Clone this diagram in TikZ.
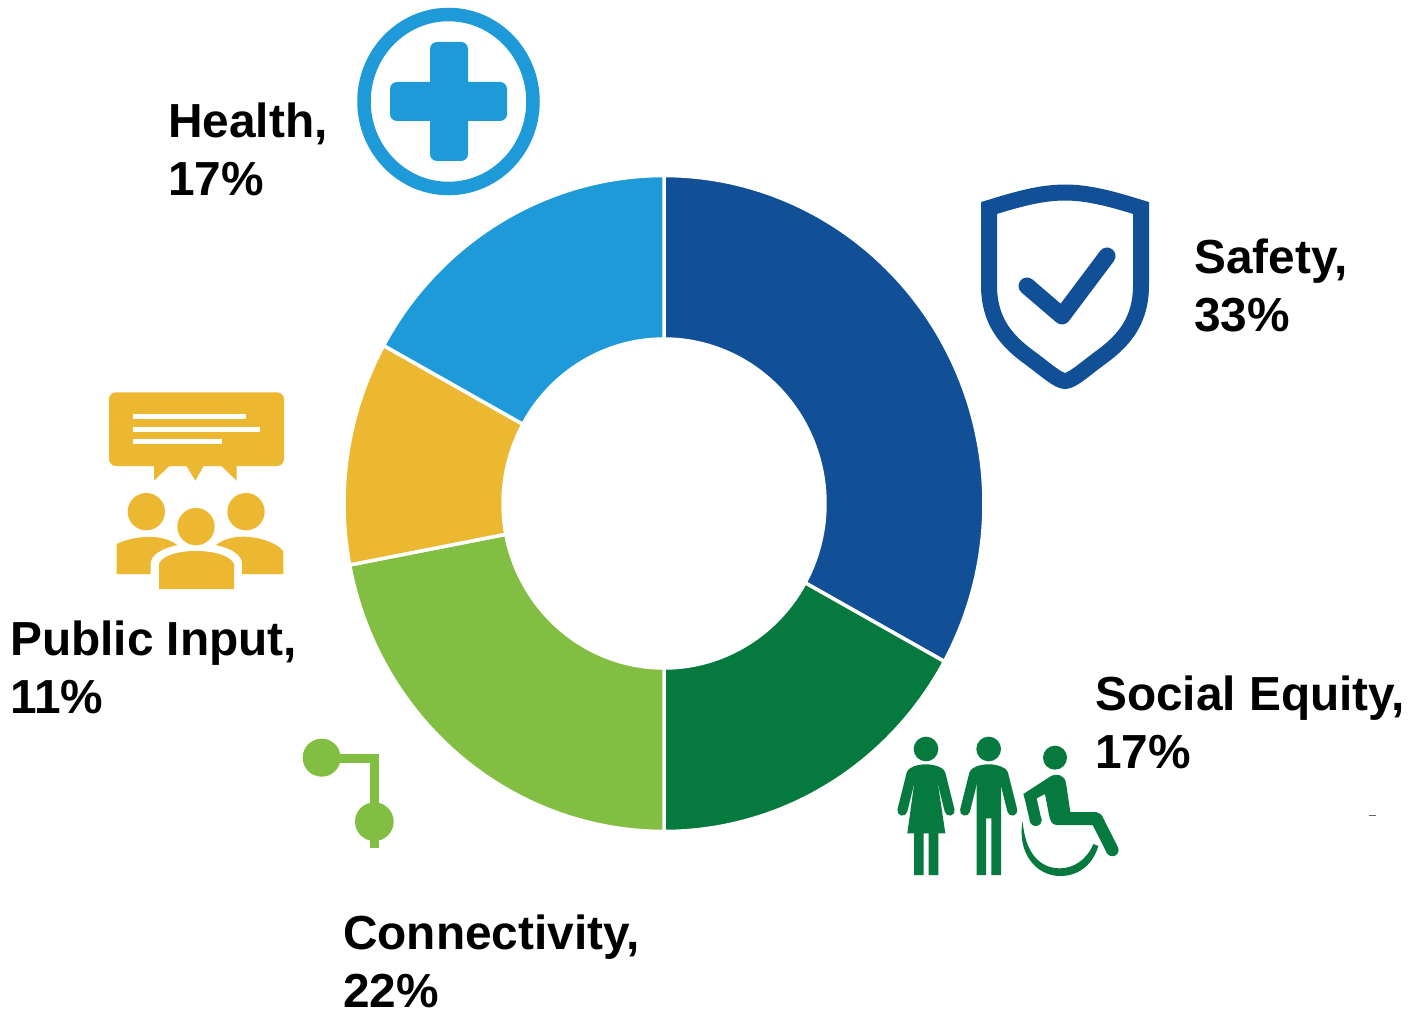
\documentclass[tikz,border=0pt]{standalone}
\usepackage{fontspec}
\setmainfont{Liberation Sans}
\definecolor{cSafety}{HTML}{114F97}
\definecolor{cEquity}{HTML}{067A3E}
\definecolor{cConn}{HTML}{82BE42}
\definecolor{cInput}{HTML}{ECB731}
\definecolor{cHealth}{HTML}{1E9AD8}
\newcommand{\slicefill}[3]{%
  \fill[#1,draw=white,line width=3.5pt,line join=miter]
    plot[domain=#2:#3,samples=90] ({664+320*sin(\x)},{503.5-328*cos(\x)})
    -- plot[domain=#3:#2,samples=90] ({664+161*sin(\x)},{503.5-164.5*cos(\x)}) -- cycle;}
\tikzset{
  lab/.style={font=\fontsize{47.8}{58}\bfseries\selectfont,align=left,inner sep=0pt,anchor=north west,text=black},
  zoomed/.style={shift={(#1)},scale=1/3},
  limb/.style={line width=10pt,line cap=round}
}
\begin{document}
\begin{tikzpicture}[x=1pt,y=-1pt]
\useasboundingbox (0,0) rectangle (1411,1011);
\fill[white] (0,0) rectangle (1411,1011);
% donut
\slicefill{cSafety}{0}{118.8}
\slicefill{cEquity}{118.8}{180}
\slicefill{cConn}{180}{259.2}
\slicefill{cInput}{259.2}{298.8}
\slicefill{cHealth}{298.8}{360}
% health icon
\draw[cHealth,line width=13.5pt] (448.5,101.5) ellipse [x radius=84.5,y radius=87];
\fill[cHealth,rounded corners=7pt] (430,42) rectangle (468,161);
\fill[cHealth,rounded corners=7pt] (390,82) rectangle (507,121);
% safety icon
\draw[cSafety,line width=16pt,miter limit=10]
  (989,208) .. controls (1015,200) and (1040,192.5) .. (1065,192.5)
  .. controls (1090,192.5) and (1115,200) .. (1141,208)
  -- (1141,285) .. controls (1141,320) and (1125,340) .. (1100,358)
  .. controls (1085,369) and (1072,381) .. (1065,381)
  .. controls (1058,381) and (1045,369) .. (1030,358)
  .. controls (1005,340) and (989,320) .. (989,285) -- cycle;
\draw[cSafety,line width=17pt,line cap=round,line join=round] (1027,286) -- (1062,316) -- (1107,256);
% public input icon
\begin{scope}[zoomed={90,380},cInput]
  \fill[rounded corners=7pt] (57,37) rectangle (582,258);
  \fill (192,256) -- (192,302) -- (240,256) -- cycle;
  \fill (288,256) -- (316,302) -- (342,256) -- cycle;
  \fill (392,256) -- (440,302) -- (440,256) -- cycle;
  \fill[white] (130,102) rectangle (467,117);
  \fill[white] (130,140) rectangle (510,155);
  \fill[white] (130,177) rectangle (395,192);
  \fill (169,395) circle[radius=56];
  \fill (468,395) circle[radius=56];
  \fill (318,440) circle[radius=56];
  \fill (80,492) .. controls (120,472) and (210,455) .. (262,495)
    .. controls (215,505) and (182,525) .. (182,550) -- (182,582) -- (80,582) -- cycle;
  \fill (580,515) .. controls (560,480) and (440,445) .. (378,495)
    .. controls (425,505) and (456,525) .. (456,550) -- (456,582) -- (580,582) -- cycle;
  \fill (207,627) -- (207,552) .. controls (225,500) and (410,500) .. (432,552) -- (432,627) -- cycle;
\end{scope}
% connectivity icon
\begin{scope}[zoomed={290,725},cConn]
  \fill (95,98) circle[radius=57];
  \fill (253,290) circle[radius=58];
  \draw[line width=9pt] (95,100) -- (254,100) -- (254,368);
\end{scope}
% social equity icon
\begin{scope}[zoomed={880,720},cEquity]
  % woman
  \fill (138,87) circle[radius=37];
  \fill (90,145) .. controls (105,135) and (125,133) .. (138,133) .. controls (150,133) and (170,135) .. (186,145)
    -- (196,165) -- (172,180) -- (196,340) -- (175,340) -- (175,465) -- (146,465) -- (146,340) -- (131,340)
    -- (131,465) -- (102,465) -- (102,340) -- (82,340) -- (104,180) -- (80,165) -- cycle;
  \draw[limb] (95,160) -- (67,272);
  \draw[limb] (181,160) -- (209,272);
  % man
  \fill (326,87) circle[radius=37];
  \fill (278,145) .. controls (293,135) and (313,133) .. (326,133) .. controls (338,133) and (358,135) .. (374,145)
    -- (384,165) -- (363,185) -- (363,465) -- (334,465) -- (334,295) -- (318,295) -- (318,465) -- (290,465)
    -- (290,185) -- (268,165) -- cycle;
  \draw[limb] (283,160) -- (255,272);
  \draw[limb] (369,160) -- (397,272);
  % wheelchair user
  \fill (525,113) circle[radius=36];
  \fill (430,222) -- (510,170) .. controls (530,158) and (555,165) .. (558,190) -- (571,276) -- (650,276) -- (665,300) -- (640,315)
    -- (530,315) .. controls (515,315) and (510,300) .. (507,285) -- (495,222) -- (470,235) -- (484,298) -- (450,305) -- (435,240) -- cycle;
  \fill (467,300) circle[radius=18];
  \draw[line width=12.5pt,line cap=round] (650,297) -- (697,390);
  \fill (428,303) .. controls (410,400) and (470,468) .. (540,468)
    .. controls (600,468) and (640,430) .. (655,378) -- (640,372)
    .. controls (620,420) and (580,445) .. (540,445)
    .. controls (480,445) and (435,400) .. (428,303) -- cycle;
\end{scope}
% stray mark
\draw[black!60,line width=1pt] (1369,815) -- (1376,815);
% labels
\node[lab] (health) at (168,103) {Health,\\17\%};
\node[lab] (safety) at (1194,238.5) {Safety,\\33\%};
\node[lab] (input) at (10,621) {Public Input,\\11\%};
\node[lab] (equity) at (1095,676) {Social Equity,\\17\%};
\node[lab] (conn) at (343,915) {Connectivity,\\22\%};
\end{tikzpicture}
\end{document}
